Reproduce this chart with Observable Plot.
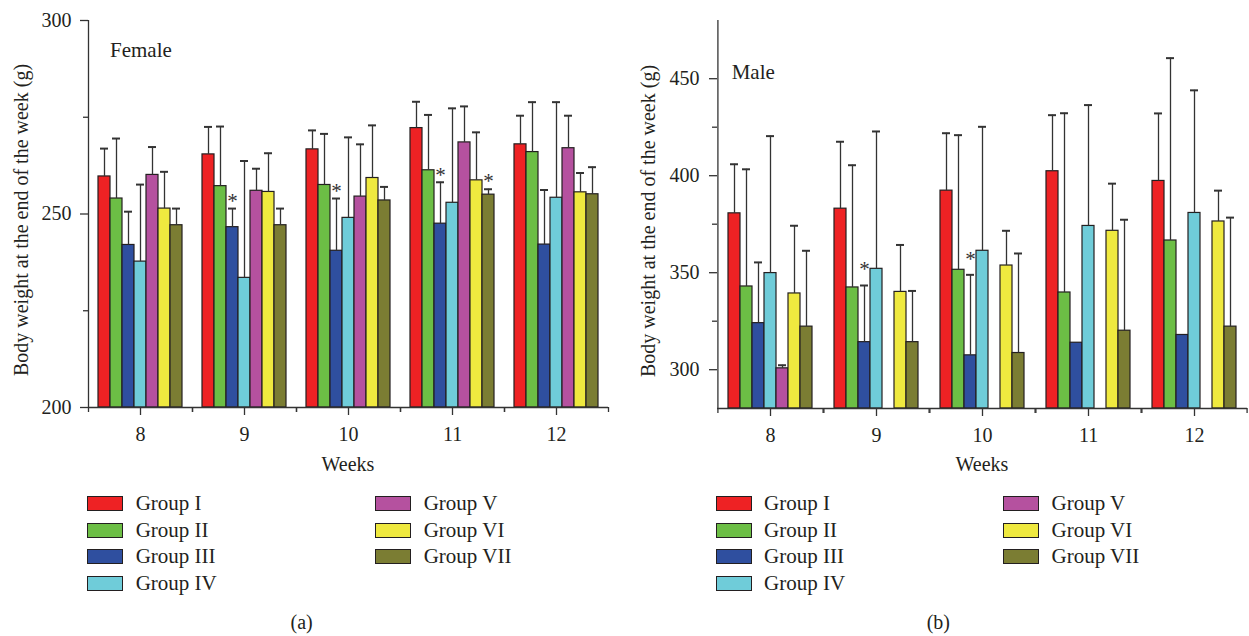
<!DOCTYPE html>
<html>
<head>
<meta charset="utf-8">
<script src="https://cdn.jsdelivr.net/npm/d3@7"></script>
<script src="https://cdn.jsdelivr.net/npm/@observablehq/plot@0.6"></script>
<style>
  html, body { margin: 0; padding: 0; background: #fff; }
  #root { position: relative; width: 1249px; height: 636px; overflow: hidden;
          font-family: "Liberation Serif", "DejaVu Serif", serif; color: #231f20; }
  .abs { position: absolute; white-space: nowrap; font-size: 20px; line-height: 20px; }
  .big { font-size: 21px; }
  .sw { position: absolute; width: 34px; height: 13px; border: 1px solid #231f20; }
</style>
</head>
<body>
<div id="root"></div>
<script>
// ---------------- data ----------------
const weeks = ["8", "9", "10", "11", "12"];
const groups = ["Group I", "Group II", "Group III", "Group IV", "Group V", "Group VI", "Group VII"];
const colors = ["#ee2224", "#6cbe45", "#2f4f9f", "#6fccd9", "#b5519f", "#efe93f", "#7b7d33"];

// Female: mean body weight (rows = groups I..VII, columns = weeks 8..12)
const femaleMean = [
  [259.7, 265.4, 266.7, 272.2, 268.0],
  [254.0, 257.2, 257.5, 261.3, 266.0],
  [242.0, 246.6, 240.5, 247.5, 242.1],
  [237.7, 233.5, 249.0, 252.9, 254.2],
  [260.1, 256.0, 254.5, 268.5, 267.0],
  [251.4, 255.7, 259.3, 258.7, 255.6],
  [247.1, 247.1, 253.5, 255.0, 255.1]
];
// Female: top of error bar (mean + SD)
const femaleUpper = [
  [266.9, 272.5, 271.6, 279.0, 275.4],
  [269.5, 272.6, 270.7, 275.6, 278.9],
  [250.6, 251.4, 254.0, 258.2, 256.2],
  [257.6, 263.7, 269.8, 277.3, 278.9],
  [267.3, 261.7, 268.0, 277.8, 275.4],
  [260.9, 265.7, 272.9, 271.1, 260.6],
  [251.4, 251.4, 257.0, 256.4, 262.1]
];
// Male: mean body weight
const maleMean = [
  [380.6, 383.0, 392.3, 402.3, 397.3],
  [342.9, 342.4, 351.5, 339.8, 366.6],
  [324.0, 314.2, 307.4, 313.9, 317.9],
  [349.8, 352.0, 361.3, 374.1, 380.8],
  [300.7, null, null, null, null],
  [339.3, 340.1, 353.7, 371.6, 376.4],
  [322.2, 314.2, 308.6, 320.1, 322.2]
];
// Male: top of error bar
const maleUpper = [
  [405.9, 417.5, 421.9, 431.2, 432.1],
  [403.3, 405.4, 420.9, 432.2, 460.6],
  [355.3, 343.4, 348.9, null, null],
  [420.4, 422.8, 425.2, 436.4, 444.0],
  [302.3, null, null, null, null],
  [374.2, 364.3, 371.6, 395.9, 392.3],
  [361.3, 340.6, 359.9, 377.3, 378.4]
];
// significance markers (week, group)
const femaleStars = [["9", "Group III"], ["10", "Group III"], ["11", "Group III"], ["11", "Group VII"]];
const maleStars = [["9", "Group III"], ["10", "Group III"]];

const femaleYDomain = [200, 300];
const femaleYTicks = [200, 250, 300];
const femaleYMinor = [225, 275];
const maleYDomain = [280, 480];
const maleYTicks = [300, 350, 400, 450];
const maleYMinor = [325, 375, 425];

const yTitle = "Body weight at the end of the week (g)";
const xTitle = "Weeks";

// ---------------- helpers ----------------
function toRows(mean, upper) {
  const rows = [];
  groups.forEach((g, gi) => weeks.forEach((w, wi) => {
    if (mean[gi][wi] != null) rows.push({group: g, week: w, value: mean[gi][wi], upper: upper[gi][wi]});
  }));
  return rows;
}
function starRows(stars, rows) {
  return stars.map(([w, g]) => rows.find(r => r.week === w && r.group === g));
}

const ink = "#231f20";
const FONT = "'Liberation Serif', 'DejaVu Serif', serif";

function chart({mean, upper, stars, domain, ticks, minor, width, marginLeft, marginRight, marginBottom, pad, tickPadding, starDy}) {
  const rows = toRows(mean, upper);
  const err = rows.filter(d => d.upper != null);
  const facetW = (width - marginLeft - marginRight) / weeks.length;
  const step = facetW / (groups.length + 2 * pad);
  const edge = step * (0.5 + pad);
  return Plot.plot({
    width, height: 480, marginTop: 20, marginBottom, marginLeft, marginRight,
    style: {fontFamily: FONT, fontSize: "20px", color: ink, background: "transparent", overflow: "visible"},
    fx: {domain: weeks, padding: 0, label: null},
    x: {domain: groups, paddingInner: 0, paddingOuter: pad, axis: null},
    y: {domain, label: null},
    color: {domain: groups, range: colors},
    marks: [
      Plot.barY(rows, {fx: "week", x: "group", y1: domain[0], y2: "value", fill: "group", stroke: ink, strokeWidth: 1.2}),
      Plot.ruleX(err, {fx: "week", x: "group", y1: "value", y2: "upper", stroke: "#333", strokeWidth: 1.3}),
      Plot.tickY(err, {fx: "week", x: "group", y: "upper", insetLeft: 2, insetRight: 2, stroke: "#333", strokeWidth: 2}),
      Plot.text(starRows(stars, rows), {fx: "week", x: "group", y: "upper", text: () => "*", dy: starDy, fontSize: 21, fill: "#333"}),
      // x axis line, y axis line, band boundary ticks
      Plot.ruleY([domain[0]], {stroke: "#333", strokeWidth: 1.3}),
      Plot.ruleX([weeks[0]], {fx: d => d, x: () => groups[0], dx: -edge, y1: domain[0], y2: domain[1], stroke: "#333", strokeWidth: 1.3}),
      Plot.ruleX(weeks, {fx: d => d, x: () => groups[0], dx: -edge, y1: domain[0], y2: domain[0], insetBottom: -5, stroke: "#333", strokeWidth: 1.3}),
      Plot.ruleX(weeks, {fx: d => d, x: () => groups[groups.length - 1], dx: edge, y1: domain[0], y2: domain[0], insetBottom: -5, stroke: "#333", strokeWidth: 1.3}),
      Plot.axisY(ticks, {tickSize: 8, tickPadding, label: null, stroke: "#333", strokeWidth: 1.3}),
      Plot.axisY(minor, {tickSize: 5, tickFormat: () => "", label: null, stroke: "#333", strokeWidth: 1.3}),
      Plot.axisFx({anchor: "bottom", tickSize: 8, tickPadding: 11, label: null, stroke: "#333", strokeWidth: 1.3})
    ]
  });
}

// ---------------- layout ----------------
const root = document.getElementById("root");
function place(node, left, top) {
  const d = document.createElement("div");
  d.style.position = "absolute"; d.style.left = left + "px"; d.style.top = top + "px";
  d.appendChild(node); root.appendChild(d);
}
// text placed by baseline (line box 20px, baseline ~16.75px below top)
function label(text, x, baseline, anchor = "start", big = false) {
  const d = document.createElement("div");
  d.className = big ? "abs big" : "abs"; d.textContent = text;
  d.style.top = (baseline - (big ? 17.2 : 16.75)) + "px";
  if (anchor === "middle") { d.style.left = (x - 300) + "px"; d.style.width = "600px"; d.style.textAlign = "center"; }
  else d.style.left = x + "px";
  root.appendChild(d);
  return d;
}
function vlabel(text, cx, cy) {
  const d = document.createElement("div");
  d.className = "abs"; d.textContent = text;
  d.style.width = "400px"; d.style.textAlign = "center";
  d.style.left = (cx - 200) + "px"; d.style.top = (cy - 10) + "px";
  d.style.transform = "rotate(-90deg)"; d.style.transformOrigin = "50% 50%";
  root.appendChild(d);
}
function legend(x0, x1, textGap) {
  const baselines = [510.5, 537, 563.5, 590];
  groups.forEach((g, i) => {
    const col = i < 4 ? 0 : 1, row = i < 4 ? i : i - 4;
    const sx = col === 0 ? x0 : x1;
    const s = document.createElement("div");
    s.className = "sw"; s.style.background = colors[i];
    s.style.left = sx + "px"; s.style.top = (baselines[row] - 14.5) + "px";
    root.appendChild(s);
    label(g, sx + textGap, baselines[row], "start", true);
  });
}

place(chart({mean: femaleMean, upper: femaleUpper, stars: femaleStars, domain: femaleYDomain, ticks: femaleYTicks, minor: femaleYMinor,
  width: 620, marginLeft: 88, marginRight: 12, marginBottom: 73, pad: 10 / 12, tickPadding: 9, starDy: -7.5}), 0, 0);
place(chart({mean: maleMean, upper: maleUpper, stars: maleStars, domain: maleYDomain, ticks: maleYTicks, minor: maleYMinor,
  width: 625, marginLeft: 92, marginRight: 1, marginBottom: 72, pad: 0.86, tickPadding: 10, starDy: -16}), 624, 0);

vlabel(yTitle, 21, 220);
vlabel(yTitle, 648, 221);
label(xTitle, 348, 471, "middle");
label(xTitle, 982, 471, "middle");
label("Female", 110, 56.7, "start", true);
label("Male", 731.7, 79.3, "start", true);
legend(87, 375, 48.7);
legend(715.7, 1003.3, 48.3);
label("(a)", 301.7, 629, "middle");
label("(b)", 938.3, 629, "middle");
</script>
</body>
</html>
